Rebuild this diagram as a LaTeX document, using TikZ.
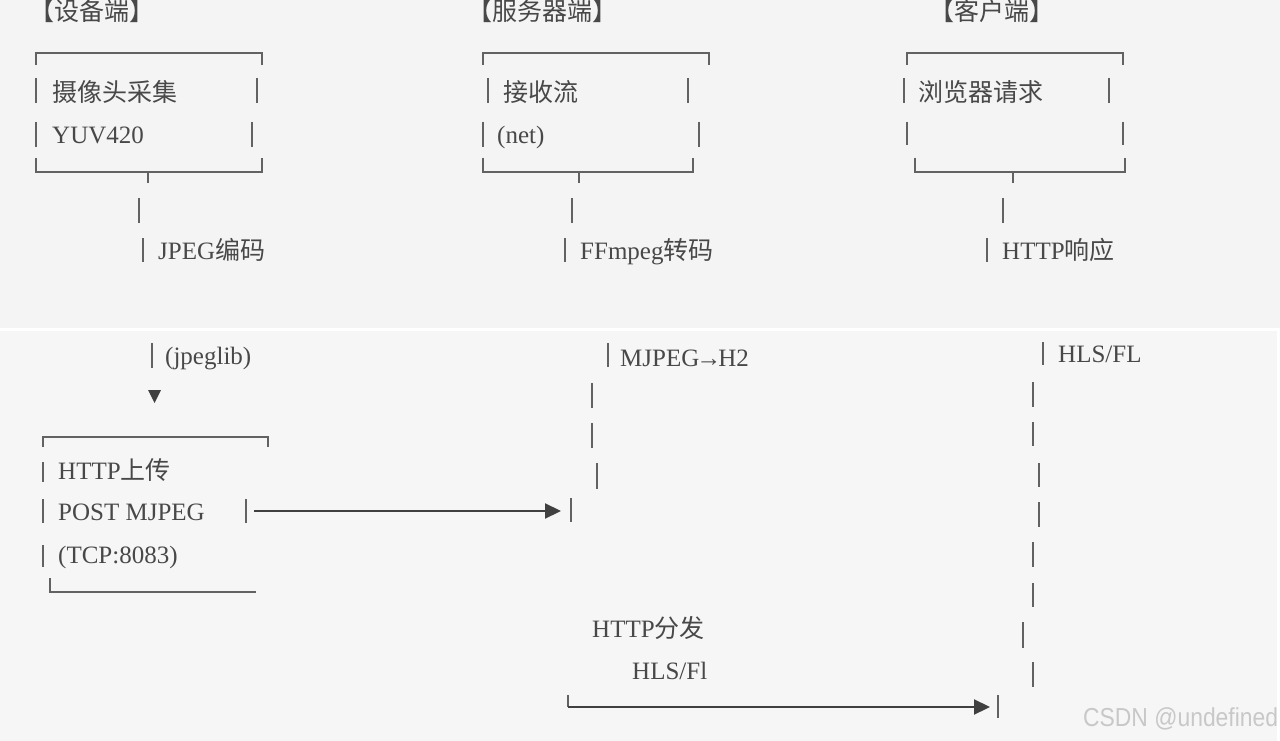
\documentclass[tikz,border=0pt]{standalone}
\usepackage{fontspec}
\setmainfont{Liberation Serif}
\newfontfamily\cjk{Noto Sans CJK SC}
\newfontfamily\wmfont{Liberation Sans}
\usetikzlibrary{arrows.meta}

\definecolor{panel}{HTML}{F4F4F4}
\definecolor{panelb}{HTML}{F6F6F6}
\definecolor{ink}{HTML}{484848}
\definecolor{rule}{HTML}{626262}
\definecolor{wmark}{HTML}{C8C8C8}

\tikzset{
  lbl/.style={anchor=west, inner sep=0pt, text height=20pt, text depth=2pt,
    text=ink, font=\fontsize{25}{30}\selectfont},
  bar/.style={draw=rule, line width=2.8pt},
  flow/.style={draw=black!75, line width=2.2pt, -{Triangle[length=16pt,width=15pt]}},
}

\begin{document}
\begin{tikzpicture}[x=1pt,y=-1pt]
  \useasboundingbox (0,0) rectangle (1280,741);
  % backdrop: two panels with a white seam
  \fill[white] (0,0) rectangle (1280,741);
  \fill[panel] (0,0) rectangle (1280,328);
  \fill[panelb] (0,331) rectangle (1277,741);

  % column headings
  \node[lbl] (hdev) at (29,12) {\cjk 【设备端】};
  \node[lbl] (hsrv) at (467,12) {\cjk 【服务器端】};
  \node[lbl] (hcli) at (929,12) {\cjk 【客户端】};

  % device column
  \draw[bar] (36,65) -- (36,53) -- (262,53) -- (262,65);
  \draw[bar] (36,158) -- (36,172) -- (262,172) -- (262,158);
  \draw[bar] (148,172) -- (148,183);
  \foreach \x/\ya/\yb in {36/78/103, 257/78/103, 36/122/147, 252/122/147,
      139/198/223, 143/238/262, 152/343/368}
    \draw[bar] (\x,\ya) -- (\x,\yb);
  \node[lbl] (cam) at (52,93) {\cjk 摄像头采集};
  \node[lbl] (yuv) at (52,135) {YUV420};
  \node[lbl] (jpg) at (158,250) {JPEG{\cjk 编码}};
  \node[lbl] (lib) at (165,355) {(jpeglib)};
  \fill[black!75] (148,390) -- (161,390) -- (154.5,403) -- cycle;

  % upload box
  \draw[bar] (43,447) -- (43,437) -- (268,437) -- (268,447);
  \draw[bar] (50,578) -- (50,592) -- (256,592);
  \foreach \x/\ya/\yb in {43/462/482, 43/499/523, 43/545/567, 246/499/523}
    \draw[bar] (\x,\ya) -- (\x,\yb);
  \node[lbl] (upl) at (58,470) {HTTP{\cjk 上传}};
  \node[lbl] (post) at (58,511) {POST MJPEG};
  \node[lbl] (tcp) at (58,554) {(TCP:8083)};

  % server column
  \draw[bar] (483,65) -- (483,53) -- (709,53) -- (709,65);
  \draw[bar] (483,158) -- (483,172) -- (693,172) -- (693,158);
  \draw[bar] (579,172) -- (579,183);
  \foreach \x/\ya/\yb in {488/78/103, 688/78/103, 483/122/147, 699/122/147,
      572/198/223, 565/238/262, 608/343/367, 592/383/408, 592/423/448,
      597/463/489, 571/498/522}
    \draw[bar] (\x,\ya) -- (\x,\yb);
  \node[lbl] (recv) at (503,93) {\cjk 接收流};
  \node[lbl] (net) at (497,135) {(net)};
  \node[lbl] (ffm) at (580,250) {FFmpeg{\cjk 转码}};
  \node[lbl] (mj) at (620,357) {MJPEG\kern-3pt→\kern-3pt H2};
  \node[lbl] (dist) at (592,628) {HTTP{\cjk 分发}};
  \node[lbl] (hlsfl) at (632,670) {HLS/Fl};

  % client column
  \draw[bar] (907,65) -- (907,53) -- (1123,53) -- (1123,65);
  \draw[bar] (915,158) -- (915,172) -- (1125,172) -- (1125,158);
  \draw[bar] (1013,172) -- (1013,183);
  \foreach \x/\ya/\yb in {904/78/103, 1109/78/103, 907/122/145, 1123/122/145,
      1003/198/223, 987/238/262, 1043/342/365, 1033/382/407, 1033/422/446,
      1039/463/487, 1039/502/527, 1033/542/567, 1033/583/607, 1023/622/648,
      1033/662/687, 998/695/718}
    \draw[bar] (\x,\ya) -- (\x,\yb);
  \node[lbl] (brw) at (918,93) {\cjk 浏览器请求};
  \node[lbl] (resp) at (1002,250) {HTTP{\cjk 响应}};
  \node[lbl] (hls) at (1058,353) {HLS/FL};

  % flows
  \coordinate (postR) at (254,511);
  \coordinate (srvIn) at (561,511);
  \draw[flow] (postR) -- (srvIn);
  \coordinate (srvOut) at (568,695);
  \coordinate (cliIn) at (990,707);
  \draw[bar] (srvOut) -- (srvOut |- cliIn);
  \draw[flow] (srvOut |- cliIn) -- (cliIn);

  % watermark
  \node[anchor=west, inner sep=0pt, text=wmark, xscale=0.88,
    font=\wmfont\fontsize{26}{30}\selectfont] (wm) at (1083,719) {CSDN @undefined};
\end{tikzpicture}
\end{document}
